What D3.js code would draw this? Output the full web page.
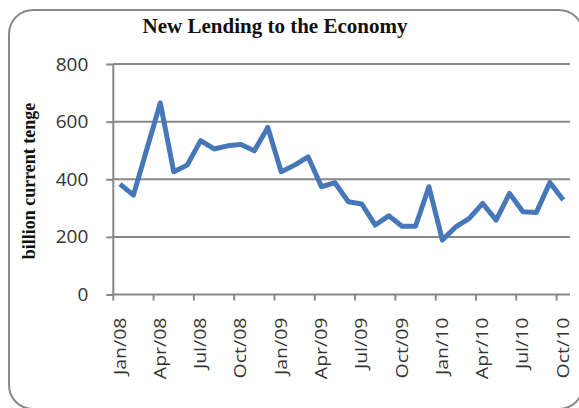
<!DOCTYPE html>
<html>
<head>
<meta charset="utf-8">
<script src="https://cdnjs.cloudflare.com/ajax/libs/d3/7.8.5/d3.min.js"></script>
<style>
  body { margin: 0; background: #fff; }
</style>
</head>
<body>
<script>
// monthly data, Jan/08 .. Oct/10
var months = ["Jan","Feb","Mar","Apr","May","Jun","Jul","Aug","Sep","Oct","Nov","Dec"];
var years = ["08", "09", "10"];
var lending = [383, 345, 505, 665, 426, 449, 534, 505, 516, 521, 499, 580,
               426, 449, 478, 374, 388, 322, 314, 241, 273, 237, 237, 374,
               189, 235, 264, 316, 258, 351, 287, 285, 389, 328];
var yTicks = [0, 200, 400, 600, 800];

var categories = lending.map(function (d, i) {
    return months[i % 12] + "/" + years[Math.floor(i / 12)];
});

var W = 579, H = 408;
var margin = {top: 64, right: 9, bottom: 113.5, left: 113.3};
var width = W - margin.left - margin.right,
    height = H - margin.top - margin.bottom;

var svg = d3.select("body").append("svg")
    .attr("width", W)
    .attr("height", H);

// outer rounded frame
svg.append("rect")
    .attr("x", 9)
    .attr("y", 10)
    .attr("width", 574)
    .attr("height", 399)
    .attr("rx", 24)
    .attr("fill", "none")
    .attr("stroke", "#8a8a8a")
    .attr("stroke-width", 2);

svg.append("text")
    .attr("x", 275)
    .attr("y", 33)
    .attr("text-anchor", "middle")
    .attr("font-family", "Liberation Serif, Times New Roman, serif")
    .attr("font-weight", "bold")
    .attr("font-size", "21px")
    .attr("fill", "#111")
    .text("New Lending to the Economy");

svg.append("text")
    .attr("transform", "translate(35,181) rotate(-90)")
    .attr("text-anchor", "middle")
    .attr("font-family", "Liberation Serif, Times New Roman, serif")
    .attr("font-weight", "bold")
    .attr("font-size", "18px")
    .attr("fill", "#111")
    .text("billion current tenge");

var g = svg.append("g")
    .attr("transform", "translate(" + margin.left + "," + margin.top + ")");

var x = d3.scaleBand().domain(categories).range([0, width]);
var y = d3.scaleLinear().domain([0, 800]).range([height, 0]);

// grid lines
g.append("g")
    .selectAll("line")
    .data(yTicks.slice(1))
    .enter()
    .append("line")
    .attr("x1", 0)
    .attr("x2", width)
    .attr("y1", function (d) { return y(d); })
    .attr("y2", function (d) { return y(d); })
    .attr("stroke", "#878787")
    .attr("stroke-width", 2);

// y axis
var y_axis = g.append("g")
    .call(d3.axisLeft(y).tickValues(yTicks).tickSize(7).tickPadding(18));
y_axis.selectAll("line, path").attr("stroke", "#878787").attr("stroke-width", 2);
y_axis.select(".domain").attr("d", "M0," + height + "V0");
y_axis.selectAll("text")
    .attr("font-family", "Open Sans, sans-serif")
    .attr("font-size", "19px")
    .attr("fill", "#333");

// x axis: ticks between categories, every 3rd month
var x_axis = g.append("g")
    .attr("transform", "translate(0," + height + ")");
x_axis.append("line")
    .attr("x1", 0).attr("x2", width)
    .attr("stroke", "#878787").attr("stroke-width", 2);
var shown = categories.filter(function (d, i) { return i % 3 === 0; });
x_axis.selectAll(".tk")
    .data(shown)
    .enter()
    .append("line")
    .attr("class", "tk")
    .attr("x1", function (d) { return x(d); })
    .attr("x2", function (d) { return x(d); })
    .attr("y1", 0).attr("y2", 6)
    .attr("stroke", "#878787").attr("stroke-width", 2);
x_axis.selectAll(".lbl")
    .data(shown)
    .enter()
    .append("text")
    .attr("class", "lbl")
    .attr("transform", function (d) {
        return "translate(" + (x(d) + x.bandwidth() / 2 + 5.5) + ",23) rotate(-90) scale(1.22,1)";
    })
    .attr("text-anchor", "end")
    .attr("font-family", "Open Sans, sans-serif")
    .attr("font-size", "16px")
    .attr("fill", "#333")
    .text(function (d) { return d; });

// the line
var valueline = d3.line()
    .x(function (d, i) { return x(categories[i]) + x.bandwidth() / 2; })
    .y(function (d) { return y(d); });

g.append("path")
    .datum(lending)
    .attr("d", valueline)
    .attr("fill", "none")
    .attr("stroke", "#4677b8")
    .attr("stroke-width", 5)
    .attr("stroke-linejoin", "round");
</script>
</body>
</html>
